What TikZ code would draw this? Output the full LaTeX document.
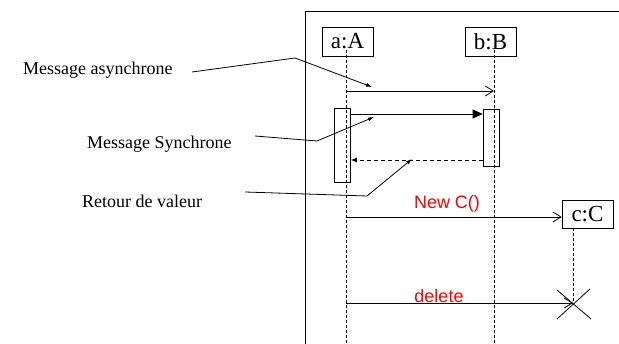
\documentclass[tikz,border=0pt]{standalone}
\usepackage{fontspec}
\setmainfont{Liberation Serif}
\newfontfamily\arialfont{Liberation Sans}
\usetikzlibrary{arrows.meta}
\begin{document}
\begin{tikzpicture}[x=1pt,y=-1pt,
  obj/.style={draw, line width=0.7pt, inner sep=0pt, minimum width=51pt, minimum height=29pt, font=\fontsize{23}{23}\selectfont},
  life/.style={dashed, dash pattern=on 3pt off 2pt, line width=0.7pt},
  act/.style={draw, line width=0.7pt, inner sep=0pt, minimum width=16pt},
  lbl/.style={font=\fontsize{18}{18}\selectfont, inner sep=0pt},
  red/.style={font=\arialfont\fontsize{18}{18}\selectfont, text=red, inner sep=0pt},
  open/.style={-{Straight Barb[length=8pt,width=10pt,line width=0.8pt]}, line width=0.8pt},
  sync/.style={-{Triangle[length=10pt,width=9pt]}, line width=0.8pt},
  ptr/.style={-{Latex[length=6pt,width=4pt]}, line width=0.8pt},
  ret/.style={dashed, dash pattern=on 4pt off 3pt, -{Latex[length=6pt,width=5pt]}, line width=0.8pt}]
\useasboundingbox (0,0) rectangle (619,344);
% frame
\draw[line width=0.7pt] (305,344) -- (305,11) -- (619,11);
% objects
\node[obj] (A) at (347.5,41.5) {a:A};
\node[obj] (B) at (490.5,41.5) {b:B};
\node[obj, minimum height=28pt] (C) at (587.5,214) {c:C};
% lifelines
\coordinate (a0) at (346,50); \coordinate (a1) at (346,344);
\coordinate (b0) at (494,50); \coordinate (b1) at (494,344);
\coordinate (cx) at (573,303);
\draw[life] (a0) -- (a1);
\draw[life] (b0) -- (b1);
\draw[life] (573,228) -- (cx);
% activations
\node[act, minimum height=74pt] (actA) at (342.5,145) {};
\node[act, minimum height=57pt] (actB) at (491,137.5) {};
% messages
\coordinate (m1s) at (346,91); \coordinate (m1e) at (494,91);
\draw[open] (m1s) -- (m1e);
\draw[sync] (actA.east |- 0,114) -- (actB.west |- 0,114);
\draw[ret] (actB.west |- 0,160) -- (actA.east |- 0,160);
\coordinate (m4s) at (346,217);
\draw[open] (m4s) -- (C.west |- m4s);
\node[red] (newc) at (447,204) {New C()};
\coordinate (m5s) at (346,303);
\draw[open] (m5s) -- (cx);
\node[red] (del) at (439,296) {delete};
% destruction X
\draw[line width=0.8pt] (557,290) -- (591,319);
\draw[line width=0.8pt] (557,319) -- (590,289);
% labels
\node[lbl, anchor=west] (l1) at (23,70) {Message asynchrone};
\node[lbl, anchor=west] (l2) at (87,144) {Message Synchrone};
\node[lbl, anchor=west] (l3) at (82,201) {Retour de valeur};
\coordinate (p1a) at (192,72); \coordinate (p1b) at (295,58); \coordinate (p1c) at (372,87);
\draw[ptr] (p1a) -- (p1b) -- (p1c);
\coordinate (p2a) at (255,136); \coordinate (p2b) at (317,141); \coordinate (p2c) at (374,117);
\draw[ptr] (p2a) -- (p2b) -- (p2c);
\coordinate (p3a) at (245,192); \coordinate (p3b) at (367,196); \coordinate (p3c) at (412,159);
\draw[ptr] (p3a) -- (p3b) -- (p3c);
\end{tikzpicture}
\end{document}
